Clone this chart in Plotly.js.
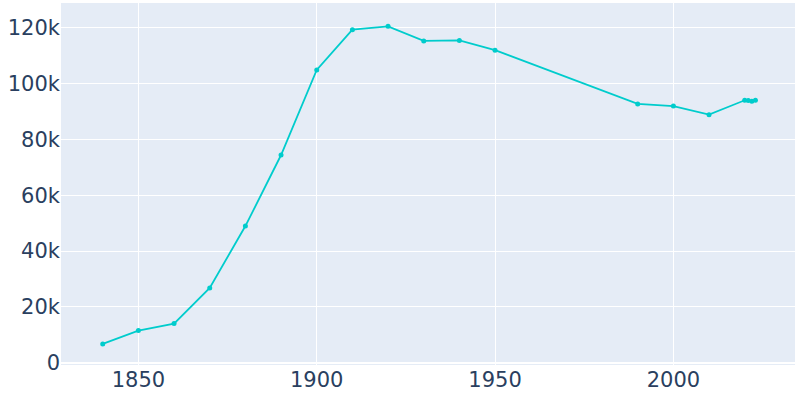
<!DOCTYPE html>
<html>
<head>
<meta charset="utf-8">
<script src="https://cdn.plot.ly/plotly-3.0.1.min.js"></script>
<style>html,body{margin:0;padding:0;background:#fff;}#chart{width:800px;height:400px;}</style>
</head>
<body>
<div id="chart"></div>
<script>
const years = [1840, 1850, 1860, 1870, 1880, 1890, 1900, 1910, 1920, 1930, 1940, 1950, 1990, 2000, 2010, 2020, 2021, 2022, 2023];
const population = [6738, 11524, 14026, 26766, 48961, 74398, 104863, 119295, 120485, 115274, 115428, 111963, 92703, 91938, 88857, 94000, 93900, 93700, 94000];
const xTicks = [1850, 1900, 1950, 2000];
const yTicks = [0, 20000, 40000, 60000, 80000, 100000, 120000];
const yTickLabels = ['0', '20k', '40k', '60k', '80k', '100k', '120k'];

Plotly.newPlot('chart', [{
  x: years,
  y: population,
  type: 'scatter',
  mode: 'lines+markers',
  line: {color: '#00cccc', width: 1.8},
  marker: {color: '#00cccc', size: 5},
  hoverinfo: 'x+y'
}], {
  width: 800,
  height: 400,
  margin: {l: 61, r: 5, t: 3, b: 35},
  paper_bgcolor: '#ffffff',
  plot_bgcolor: '#e5ecf6',
  font: {family: 'DejaVu Sans, sans-serif', size: 21, color: '#2a3f5f'},
  showlegend: false,
  xaxis: {
    range: [1828.3, 2034.1],
    tickvals: xTicks,
    gridcolor: '#ffffff',
    zeroline: false,
    showline: false,
    ticks: ''
  },
  yaxis: {
    range: [-820, 128850],
    tickvals: yTicks,
    ticktext: yTickLabels,
    gridcolor: '#ffffff',
    zeroline: true,
    zerolinecolor: '#ffffff',
    zerolinewidth: 2,
    ticks: ''
  }
}, {displayModeBar: false, staticPlot: true});
</script>
</body>
</html>
